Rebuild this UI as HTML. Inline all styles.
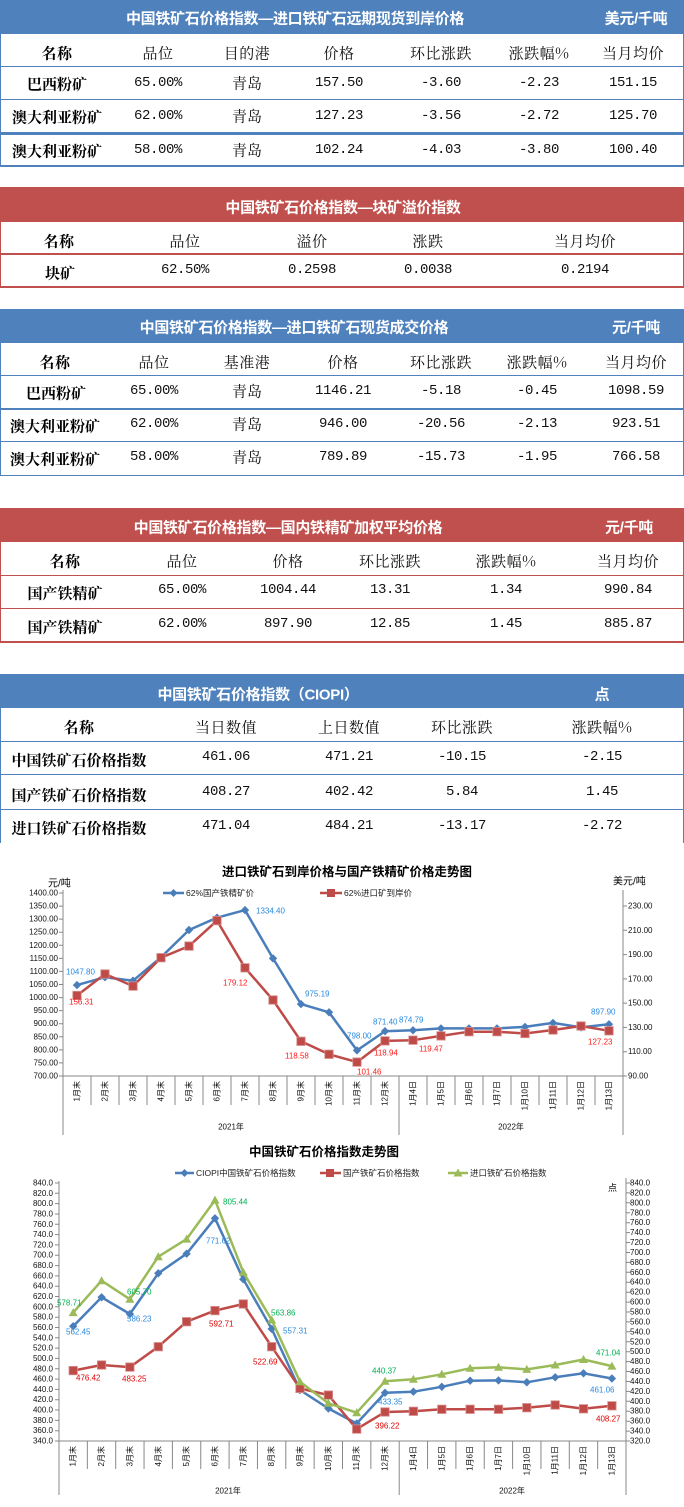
<!DOCTYPE html>
<html><head><meta charset="utf-8">
<style>
html,body{margin:0;padding:0;background:#fff;}
body{width:684px;height:1507px;position:relative;overflow:hidden;font-family:"Liberation Sans","Noto Sans CJK SC",sans-serif;}
.bar{position:absolute;left:0;width:684px;}
.b{background:#4f81bd;}
.r{background:#c0504d;}
.ln{position:absolute;left:0;width:684px;}
.vl{position:absolute;width:1px;}
.c{position:absolute;transform:translate(-50%,-50%);white-space:nowrap;line-height:1;}
.t{color:#fff;font-weight:bold;font-size:15px;font-family:"Liberation Sans","Noto Sans CJK SC",sans-serif;letter-spacing:-0.3px;}
.h{font-family:"Noto Serif CJK SC","Liberation Serif",serif;font-size:15px;color:#111;letter-spacing:0.5px;}
.hb{font-family:"Noto Serif CJK SC","Liberation Serif",serif;font-size:15px;font-weight:bold;color:#000;letter-spacing:0.5px;}
.n{font-family:"Noto Serif CJK SC","Liberation Serif",serif;font-size:15px;font-weight:bold;color:#000;}
.d{font-family:"Liberation Mono",monospace;font-size:14px;color:#111;letter-spacing:-0.4px;}
.dc{font-family:"Noto Serif CJK SC","Liberation Serif",serif;font-size:15px;color:#111;}
svg{position:absolute;left:0;top:0;}
</style></head><body>

<!-- Table 1 -->
<div class="bar b" style="top:0;height:34px"></div>
<div class="c t" style="left:295px;top:19px">中国铁矿石价格指数—进口铁矿石远期现货到岸价格</div>
<div class="c t" style="left:636px;top:19px">美元/千吨</div>
<div class="vl b" style="left:0;top:34px;height:133px"></div>
<div class="vl b" style="left:683px;top:34px;height:133px"></div>
<div class="ln b" style="top:66px;height:1px"></div>
<div class="ln b" style="top:99px;height:1px"></div>
<div class="ln b" style="top:132px;height:3px"></div>
<div class="ln b" style="top:165px;height:2px"></div>
<div class="c hb" style="left:57px;top:53px">名称</div>
<div class="c h" style="left:158px;top:53px">品位</div>
<div class="c h" style="left:247px;top:53px">目的港</div>
<div class="c h" style="left:339px;top:53px">价格</div>
<div class="c h" style="left:441px;top:53px">环比涨跌</div>
<div class="c h" style="left:539px;top:53px">涨跌幅%</div>
<div class="c h" style="left:633px;top:53px">当月均价</div>

<div class="c n" style="left:57px;top:84px">巴西粉矿</div>
<div class="c d" style="left:158px;top:83px">65.00%</div>
<div class="c dc" style="left:247px;top:83px">青岛</div>
<div class="c d" style="left:339px;top:83px">157.50</div>
<div class="c d" style="left:441px;top:83px">-3.60</div>
<div class="c d" style="left:539px;top:83px">-2.23</div>
<div class="c d" style="left:633px;top:83px">151.15</div>

<div class="c n" style="left:57px;top:117px">澳大利亚粉矿</div>
<div class="c d" style="left:158px;top:116px">62.00%</div>
<div class="c dc" style="left:247px;top:116px">青岛</div>
<div class="c d" style="left:339px;top:116px">127.23</div>
<div class="c d" style="left:441px;top:116px">-3.56</div>
<div class="c d" style="left:539px;top:116px">-2.72</div>
<div class="c d" style="left:633px;top:116px">125.70</div>

<div class="c n" style="left:57px;top:151px">澳大利亚粉矿</div>
<div class="c d" style="left:158px;top:150px">58.00%</div>
<div class="c dc" style="left:247px;top:150px">青岛</div>
<div class="c d" style="left:339px;top:150px">102.24</div>
<div class="c d" style="left:441px;top:150px">-4.03</div>
<div class="c d" style="left:539px;top:150px">-3.80</div>
<div class="c d" style="left:633px;top:150px">100.40</div>

<!-- Block table -->
<div class="bar r" style="top:187px;height:35px"></div>
<div class="c t" style="left:343px;top:208px">中国铁矿石价格指数—块矿溢价指数</div>
<div class="vl r" style="left:0;top:222px;height:66px"></div>
<div class="vl r" style="left:683px;top:222px;height:66px"></div>
<div class="ln r" style="top:253px;height:2px"></div>
<div class="ln r" style="top:286px;height:2px"></div>
<div class="c hb" style="left:59px;top:241px">名称</div>
<div class="c h" style="left:185px;top:241px">品位</div>
<div class="c h" style="left:312px;top:241px">溢价</div>
<div class="c h" style="left:428px;top:241px">涨跌</div>
<div class="c h" style="left:585px;top:241px">当月均价</div>
<div class="c n" style="left:60px;top:273px">块矿</div>
<div class="c d" style="left:185px;top:270px">62.50%</div>
<div class="c d" style="left:312px;top:270px">0.2598</div>
<div class="c d" style="left:428px;top:270px">0.0038</div>
<div class="c d" style="left:585px;top:270px">0.2194</div>

<!-- Table 2 -->
<div class="bar b" style="top:309px;height:34px"></div>
<div class="c t" style="left:294px;top:328px">中国铁矿石价格指数—进口铁矿石现货成交价格</div>
<div class="c t" style="left:636px;top:328px">元/千吨</div>
<div class="vl b" style="left:0;top:343px;height:133px"></div>
<div class="vl b" style="left:683px;top:343px;height:133px"></div>
<div class="ln b" style="top:375px;height:1px"></div>
<div class="ln b" style="top:408px;height:2px"></div>
<div class="ln b" style="top:441px;height:1px"></div>
<div class="ln b" style="top:475px;height:1px"></div>
<div class="c hb" style="left:55px;top:362px">名称</div>
<div class="c h" style="left:154px;top:362px">品位</div>
<div class="c h" style="left:247px;top:362px">基准港</div>
<div class="c h" style="left:343px;top:362px">价格</div>
<div class="c h" style="left:441px;top:362px">环比涨跌</div>
<div class="c h" style="left:537px;top:362px">涨跌幅%</div>
<div class="c h" style="left:636px;top:362px">当月均价</div>

<div class="c n" style="left:56px;top:393px">巴西粉矿</div>
<div class="c d" style="left:154px;top:391px">65.00%</div>
<div class="c dc" style="left:247px;top:391px">青岛</div>
<div class="c d" style="left:343px;top:391px">1146.21</div>
<div class="c d" style="left:441px;top:391px">-5.18</div>
<div class="c d" style="left:537px;top:391px">-0.45</div>
<div class="c d" style="left:636px;top:391px">1098.59</div>

<div class="c n" style="left:55px;top:426px">澳大利亚粉矿</div>
<div class="c d" style="left:154px;top:424px">62.00%</div>
<div class="c dc" style="left:247px;top:424px">青岛</div>
<div class="c d" style="left:343px;top:424px">946.00</div>
<div class="c d" style="left:441px;top:424px">-20.56</div>
<div class="c d" style="left:537px;top:424px">-2.13</div>
<div class="c d" style="left:636px;top:424px">923.51</div>

<div class="c n" style="left:55px;top:459px">澳大利亚粉矿</div>
<div class="c d" style="left:154px;top:457px">58.00%</div>
<div class="c dc" style="left:247px;top:457px">青岛</div>
<div class="c d" style="left:343px;top:457px">789.89</div>
<div class="c d" style="left:441px;top:457px">-15.73</div>
<div class="c d" style="left:537px;top:457px">-1.95</div>
<div class="c d" style="left:636px;top:457px">766.58</div>

<!-- Table 3 -->
<div class="bar r" style="top:508px;height:34px"></div>
<div class="c t" style="left:288px;top:528px">中国铁矿石价格指数—国内铁精矿加权平均价格</div>
<div class="c t" style="left:629px;top:528px">元/千吨</div>
<div class="vl r" style="left:0;top:542px;height:101px"></div>
<div class="vl r" style="left:683px;top:542px;height:101px"></div>
<div class="ln r" style="top:575px;height:1px"></div>
<div class="ln r" style="top:608px;height:1px"></div>
<div class="ln r" style="top:641px;height:2px"></div>
<div class="c hb" style="left:65px;top:561px">名称</div>
<div class="c h" style="left:182px;top:561px">品位</div>
<div class="c h" style="left:288px;top:561px">价格</div>
<div class="c h" style="left:390px;top:561px">环比涨跌</div>
<div class="c h" style="left:506px;top:561px">涨跌幅%</div>
<div class="c h" style="left:628px;top:561px">当月均价</div>

<div class="c n" style="left:65px;top:593px">国产铁精矿</div>
<div class="c d" style="left:182px;top:590px">65.00%</div>
<div class="c d" style="left:288px;top:590px">1004.44</div>
<div class="c d" style="left:390px;top:590px">13.31</div>
<div class="c d" style="left:506px;top:590px">1.34</div>
<div class="c d" style="left:628px;top:590px">990.84</div>

<div class="c n" style="left:65px;top:627px">国产铁精矿</div>
<div class="c d" style="left:182px;top:624px">62.00%</div>
<div class="c d" style="left:288px;top:624px">897.90</div>
<div class="c d" style="left:390px;top:624px">12.85</div>
<div class="c d" style="left:506px;top:624px">1.45</div>
<div class="c d" style="left:628px;top:624px">885.87</div>

<!-- Table 4 -->
<div class="bar b" style="top:674px;height:34px"></div>
<div class="c t" style="left:258px;top:695px">中国铁矿石价格指数（CIOPI）</div>
<div class="c t" style="left:602px;top:695px">点</div>
<div class="vl b" style="left:0;top:708px;height:135px"></div>
<div class="vl b" style="left:683px;top:708px;height:135px"></div>
<div class="ln b" style="top:741px;height:1px"></div>
<div class="ln b" style="top:774px;height:1px"></div>
<div class="ln b" style="top:809px;height:1px"></div>
<div class="c hb" style="left:79px;top:727px">名称</div>
<div class="c h" style="left:226px;top:727px">当日数值</div>
<div class="c h" style="left:349px;top:727px">上日数值</div>
<div class="c h" style="left:462px;top:727px">环比涨跌</div>
<div class="c h" style="left:602px;top:727px">涨跌幅%</div>

<div class="c n" style="left:79px;top:760px">中国铁矿石价格指数</div>
<div class="c d" style="left:226px;top:757px">461.06</div>
<div class="c d" style="left:349px;top:757px">471.21</div>
<div class="c d" style="left:462px;top:757px">-10.15</div>
<div class="c d" style="left:602px;top:757px">-2.15</div>

<div class="c n" style="left:79px;top:795px">国产铁矿石价格指数</div>
<div class="c d" style="left:226px;top:792px">408.27</div>
<div class="c d" style="left:349px;top:792px">402.42</div>
<div class="c d" style="left:462px;top:792px">5.84</div>
<div class="c d" style="left:602px;top:792px">1.45</div>

<div class="c n" style="left:79px;top:828px">进口铁矿石价格指数</div>
<div class="c d" style="left:226px;top:826px">471.04</div>
<div class="c d" style="left:349px;top:826px">484.21</div>
<div class="c d" style="left:462px;top:826px">-13.17</div>
<div class="c d" style="left:602px;top:826px">-2.72</div>

<svg width="684" height="1507" viewBox="0 0 684 1507" xmlns="http://www.w3.org/2000/svg" font-family="Liberation Sans, Noto Sans CJK SC, sans-serif">
<defs>
<marker id="dm" viewBox="-5 -5 10 10" markerWidth="10" markerHeight="10" markerUnits="userSpaceOnUse" refX="0" refY="0"><path d="M0 -4.2L4.2 0 0 4.2 -4.2 0Z" fill="#4a7ebb"/></marker>
<marker id="sq" viewBox="-5 -5 10 10" markerWidth="10" markerHeight="10" markerUnits="userSpaceOnUse" refX="0" refY="0"><rect x="-4.2" y="-4.2" width="8.4" height="8.4" fill="#be4b48" stroke="#d68f8d" stroke-width="0.8"/></marker>
<marker id="tr" viewBox="-5 -5 10 10" markerWidth="10" markerHeight="10" markerUnits="userSpaceOnUse" refX="0" refY="0"><path d="M0 -4.5L4.5 3.5 -4.5 3.5Z" fill="#9bbb59"/></marker>
</defs>

<!-- ============ CHART 1 ============ -->
<text x="347" y="872" text-anchor="middle" dominant-baseline="central" font-size="12.5" font-weight="bold" fill="#000">进口铁矿石到岸价格与国产铁精矿价格走势图</text>
<text x="48" y="884" dominant-baseline="central" font-size="10" fill="#000">元/吨</text>
<text x="613" y="882" dominant-baseline="central" font-size="10" fill="#000">美元/吨</text>

<line x1="163" y1="893" x2="184" y2="893" stroke="#4a7ebb" stroke-width="2.5"/>
<path d="M173.5 889L177.5 893 173.5 897 169.5 893Z" fill="#4a7ebb"/>
<text x="186" y="893" dominant-baseline="central" font-size="8.5" fill="#222">62%国产铁精矿价</text>
<line x1="320" y1="893" x2="342" y2="893" stroke="#be4b48" stroke-width="2.5"/>
<rect x="327" y="889" width="8" height="8" fill="#be4b48"/>
<text x="344" y="893" dominant-baseline="central" font-size="8.5" fill="#222">62%进口矿到岸价</text>

<g stroke="#888" stroke-width="1" fill="none">
<line x1="63" y1="890" x2="63" y2="1135"/>
<line x1="623" y1="890" x2="623" y2="1135"/>
<line x1="63" y1="1076" x2="623" y2="1076"/>
<line x1="399" y1="1076" x2="399" y2="1135"/>
<path d="M91 1076V1105M119 1076V1105M147 1076V1105M175 1076V1105M203 1076V1105M231 1076V1105M259 1076V1105M287 1076V1105M315 1076V1105M343 1076V1105M371 1076V1105M427 1076V1105M455 1076V1105M483 1076V1105M511 1076V1105M539 1076V1105M567 1076V1105M595 1076V1105"/>
<path d="M59 893H63M59 906.1H63M59 919.1H63M59 932.2H63M59 945.3H63M59 958.4H63M59 971.4H63M59 984.5H63M59 997.6H63M59 1010.6H63M59 1023.7H63M59 1036.8H63M59 1049.9H63M59 1062.9H63M59 1076H63"/>
<path d="M623 906H627M623 930.3H627M623 954.6H627M623 978.9H627M623 1003.1H627M623 1027.4H627M623 1051.7H627M623 1076H627"/>
</g>
<g font-size="8" fill="#111" text-anchor="end" dominant-baseline="central">
<text x="58" y="893">1400.00</text><text x="58" y="906.1">1350.00</text><text x="58" y="919.1">1300.00</text><text x="58" y="932.2">1250.00</text><text x="58" y="945.3">1200.00</text><text x="58" y="958.4">1150.00</text><text x="58" y="971.4">1100.00</text><text x="58" y="984.5">1050.00</text><text x="58" y="997.6">1000.00</text><text x="58" y="1010.6">950.00</text><text x="58" y="1023.7">900.00</text><text x="58" y="1036.8">850.00</text><text x="58" y="1049.9">800.00</text><text x="58" y="1062.9">750.00</text><text x="58" y="1076">700.00</text>
</g>
<g font-size="8" fill="#111" dominant-baseline="central">
<text x="628" y="906">230.00</text><text x="628" y="930.3">210.00</text><text x="628" y="954.6">190.00</text><text x="628" y="978.9">170.00</text><text x="628" y="1003.1">150.00</text><text x="628" y="1027.4">130.00</text><text x="628" y="1051.7">110.00</text><text x="628" y="1076">90.00</text>
</g>
<g font-size="8" fill="#111" text-anchor="end" dominant-baseline="central">
<text transform="translate(77,1081) rotate(-90)">1月末</text>
<text transform="translate(105,1081) rotate(-90)">2月末</text>
<text transform="translate(133,1081) rotate(-90)">3月末</text>
<text transform="translate(161,1081) rotate(-90)">4月末</text>
<text transform="translate(189,1081) rotate(-90)">5月末</text>
<text transform="translate(217,1081) rotate(-90)">6月末</text>
<text transform="translate(245,1081) rotate(-90)">7月末</text>
<text transform="translate(273,1081) rotate(-90)">8月末</text>
<text transform="translate(301,1081) rotate(-90)">9月末</text>
<text transform="translate(329,1081) rotate(-90)">10月末</text>
<text transform="translate(357,1081) rotate(-90)">11月末</text>
<text transform="translate(385,1081) rotate(-90)">12月末</text>
<text transform="translate(413,1081) rotate(-90)">1月4日</text>
<text transform="translate(441,1081) rotate(-90)">1月5日</text>
<text transform="translate(469,1081) rotate(-90)">1月6日</text>
<text transform="translate(497,1081) rotate(-90)">1月7日</text>
<text transform="translate(525,1081) rotate(-90)">1月10日</text>
<text transform="translate(553,1081) rotate(-90)">1月11日</text>
<text transform="translate(581,1081) rotate(-90)">1月12日</text>
<text transform="translate(609,1081) rotate(-90)">1月13日</text>
</g>
<text x="231" y="1127" text-anchor="middle" dominant-baseline="central" font-size="8" fill="#111">2021年</text>
<text x="511" y="1127" text-anchor="middle" dominant-baseline="central" font-size="8" fill="#111">2022年</text>

<polyline fill="none" stroke="#4a7ebb" stroke-width="2.5" stroke-linejoin="round" marker-start="url(#dm)" marker-mid="url(#dm)" marker-end="url(#dm)" points="77,985.1 105,977.2 133,980.7 161,957.3 189,930 217,917.7 245,910.1 273,958.4 301,1004.1 329,1012.3 357,1050.4 385,1031.2 413,1030.3 441,1028.4 469,1028.4 497,1028.4 525,1026.9 553,1022.9 581,1027.4 609,1024.3"/>
<polyline fill="none" stroke="#be4b48" stroke-width="2.5" stroke-linejoin="round" marker-start="url(#sq)" marker-mid="url(#sq)" marker-end="url(#sq)" points="77,995.5 105,974 133,986.1 161,957.7 189,946.1 217,920.6 245,967.8 273,1000 301,1041.3 329,1054.3 357,1062.1 385,1040.9 413,1040.2 441,1035.9 469,1031.7 497,1031.7 525,1033.5 553,1030 581,1026 609,1030.8"/>

<g font-size="8" fill="#2a8ae0" dominant-baseline="central">
<text x="66" y="972">1047.80</text><text x="256" y="911">1334.40</text><text x="305" y="994">975.19</text><text x="347" y="1036">798.00</text><text x="373" y="1022">871.40</text><text x="399" y="1020">874.79</text><text x="591" y="1012">897.90</text>
</g>
<g font-size="8" fill="#ff1a1a" dominant-baseline="central">
<text x="69" y="1002">156.31</text><text x="223" y="983">179.12</text><text x="285" y="1056">118.58</text><text x="357" y="1072">101.46</text><text x="374" y="1053">118.94</text><text x="419" y="1049">119.47</text><text x="588" y="1042">127.23</text>
</g>

<!-- ============ CHART 2 ============ -->
<text x="324" y="1152" text-anchor="middle" dominant-baseline="central" font-size="12.5" font-weight="bold" fill="#000">中国铁矿石价格指数走势图</text>
<text x="608" y="1188" dominant-baseline="central" font-size="9" fill="#000">点</text>

<line x1="175" y1="1173" x2="194" y2="1173" stroke="#4a7ebb" stroke-width="2.5"/>
<path d="M184.5 1169L188.5 1173 184.5 1177 180.5 1173Z" fill="#4a7ebb"/>
<text x="196" y="1173" dominant-baseline="central" font-size="8.5" fill="#222">CIOPI中国铁矿石价格指数</text>
<line x1="320" y1="1173" x2="341" y2="1173" stroke="#be4b48" stroke-width="2.5"/>
<rect x="326" y="1169" width="8" height="8" fill="#be4b48"/>
<text x="343" y="1173" dominant-baseline="central" font-size="8.5" fill="#222">国产铁矿石价格指数</text>
<line x1="448" y1="1173" x2="468" y2="1173" stroke="#9bbb59" stroke-width="2.5"/>
<path d="M458 1168.5L462.5 1176.5 453.5 1176.5Z" fill="#9bbb59"/>
<text x="470" y="1173" dominant-baseline="central" font-size="8.5" fill="#222">进口铁矿石价格指数</text>

<g stroke="#888" stroke-width="1" fill="none">
<line x1="59" y1="1181" x2="59" y2="1495"/>
<line x1="626" y1="1178" x2="626" y2="1495"/>
<line x1="59" y1="1441" x2="626" y2="1441"/>
<line x1="399.2" y1="1441" x2="399.2" y2="1495"/>
<path d="M87.35 1441V1469M115.7 1441V1469M144.05 1441V1469M172.4 1441V1469M200.75 1441V1469M229.1 1441V1469M257.45 1441V1469M285.8 1441V1469M314.15 1441V1469M342.5 1441V1469M370.85 1441V1469M427.55 1441V1469M455.9 1441V1469M484.25 1441V1469M512.6 1441V1469M540.95 1441V1469M569.3 1441V1469M597.65 1441V1469"/>
<path d="M55 1183H59M55 1193.3H59M55 1203.6H59M55 1214H59M55 1224.3H59M55 1234.6H59M55 1244.9H59M55 1255.2H59M55 1265.6H59M55 1275.9H59M55 1286.2H59M55 1296.5H59M55 1306.8H59M55 1317.2H59M55 1327.5H59M55 1337.8H59M55 1348.1H59M55 1358.4H59M55 1368.8H59M55 1379.1H59M55 1389.4H59M55 1399.7H59M55 1410H59M55 1420.4H59M55 1430.7H59M55 1441H59"/>
<path d="M626 1183H630M626 1192.9H630M626 1202.8H630M626 1212.8H630M626 1222.7H630M626 1232.6H630M626 1242.5H630M626 1252.5H630M626 1262.4H630M626 1272.3H630M626 1282.2H630M626 1292.2H630M626 1302.1H630M626 1312H630M626 1321.9H630M626 1331.8H630M626 1341.8H630M626 1351.7H630M626 1361.6H630M626 1371.5H630M626 1381.5H630M626 1391.4H630M626 1401.3H630M626 1411.2H630M626 1421.2H630M626 1431.1H630M626 1441H630"/>
</g>
<g font-size="8" fill="#111" text-anchor="end" dominant-baseline="central">
<text x="53" y="1183">840.0</text><text x="53" y="1193.3">820.0</text><text x="53" y="1203.6">800.0</text><text x="53" y="1214">780.0</text><text x="53" y="1224.3">760.0</text><text x="53" y="1234.6">740.0</text><text x="53" y="1244.9">720.0</text><text x="53" y="1255.2">700.0</text><text x="53" y="1265.6">680.0</text><text x="53" y="1275.9">660.0</text><text x="53" y="1286.2">640.0</text><text x="53" y="1296.5">620.0</text><text x="53" y="1306.8">600.0</text><text x="53" y="1317.2">580.0</text><text x="53" y="1327.5">560.0</text><text x="53" y="1337.8">540.0</text><text x="53" y="1348.1">520.0</text><text x="53" y="1358.4">500.0</text><text x="53" y="1368.8">480.0</text><text x="53" y="1379.1">460.0</text><text x="53" y="1389.4">440.0</text><text x="53" y="1399.7">420.0</text><text x="53" y="1410">400.0</text><text x="53" y="1420.4">380.0</text><text x="53" y="1430.7">360.0</text><text x="53" y="1441">340.0</text>
</g>
<g font-size="8" fill="#111" dominant-baseline="central">
<text x="630" y="1183">840.0</text><text x="630" y="1192.9">820.0</text><text x="630" y="1202.8">800.0</text><text x="630" y="1212.8">780.0</text><text x="630" y="1222.7">760.0</text><text x="630" y="1232.6">740.0</text><text x="630" y="1242.5">720.0</text><text x="630" y="1252.5">700.0</text><text x="630" y="1262.4">680.0</text><text x="630" y="1272.3">660.0</text><text x="630" y="1282.2">640.0</text><text x="630" y="1292.2">620.0</text><text x="630" y="1302.1">600.0</text><text x="630" y="1312">580.0</text><text x="630" y="1321.9">560.0</text><text x="630" y="1331.8">540.0</text><text x="630" y="1341.8">520.0</text><text x="630" y="1351.7">500.0</text><text x="630" y="1361.6">480.0</text><text x="630" y="1371.5">460.0</text><text x="630" y="1381.5">440.0</text><text x="630" y="1391.4">420.0</text><text x="630" y="1401.3">400.0</text><text x="630" y="1411.2">380.0</text><text x="630" y="1421.2">360.0</text><text x="630" y="1431.1">340.0</text><text x="630" y="1441">320.0</text>
</g>
<g font-size="8" fill="#111" text-anchor="end" dominant-baseline="central">
<text transform="translate(73.2,1446) rotate(-90)">1月末</text>
<text transform="translate(101.6,1446) rotate(-90)">2月末</text>
<text transform="translate(129.9,1446) rotate(-90)">3月末</text>
<text transform="translate(158.3,1446) rotate(-90)">4月末</text>
<text transform="translate(186.6,1446) rotate(-90)">5月末</text>
<text transform="translate(215,1446) rotate(-90)">6月末</text>
<text transform="translate(243.3,1446) rotate(-90)">7月末</text>
<text transform="translate(271.7,1446) rotate(-90)">8月末</text>
<text transform="translate(300,1446) rotate(-90)">9月末</text>
<text transform="translate(328.4,1446) rotate(-90)">10月末</text>
<text transform="translate(356.7,1446) rotate(-90)">11月末</text>
<text transform="translate(385,1446) rotate(-90)">12月末</text>
<text transform="translate(413.4,1446) rotate(-90)">1月4日</text>
<text transform="translate(441.8,1446) rotate(-90)">1月5日</text>
<text transform="translate(470.1,1446) rotate(-90)">1月6日</text>
<text transform="translate(498.5,1446) rotate(-90)">1月7日</text>
<text transform="translate(526.8,1446) rotate(-90)">1月10日</text>
<text transform="translate(555.2,1446) rotate(-90)">1月11日</text>
<text transform="translate(583.5,1446) rotate(-90)">1月12日</text>
<text transform="translate(611.9,1446) rotate(-90)">1月13日</text>
</g>
<text x="228" y="1491" text-anchor="middle" dominant-baseline="central" font-size="8" fill="#111">2021年</text>
<text x="512" y="1491" text-anchor="middle" dominant-baseline="central" font-size="8" fill="#111">2022年</text>

<polyline fill="none" stroke="#4a7ebb" stroke-width="2.5" stroke-linejoin="round" marker-start="url(#dm)" marker-mid="url(#dm)" marker-end="url(#dm)" points="73.2,1326.2 101.6,1297.3 129.9,1314 158.3,1273.3 186.6,1253.7 215,1218.3 243.3,1279.3 271.7,1328.9 300,1390 328.4,1408.5 356.7,1423.5 385,1392.8 413.4,1391.7 441.8,1386.8 470.1,1380.7 498.5,1380.4 526.8,1382.3 555.2,1377.3 583.5,1373.3 611.9,1378.5"/>
<polyline fill="none" stroke="#be4b48" stroke-width="2.5" stroke-linejoin="round" marker-start="url(#sq)" marker-mid="url(#sq)" marker-end="url(#sq)" points="73.2,1370.6 101.6,1365 129.9,1367.1 158.3,1346.7 186.6,1321.7 215,1310.6 243.3,1304 271.7,1346.7 300,1388.4 328.4,1395.1 356.7,1429.1 385,1412 413.4,1411.3 441.8,1409.3 470.1,1409.3 498.5,1409.3 526.8,1407.7 555.2,1405 583.5,1408.8 611.9,1405.8"/>
<polyline fill="none" stroke="#9bbb59" stroke-width="2.5" stroke-linejoin="round" marker-start="url(#tr)" marker-mid="url(#tr)" marker-end="url(#tr)" points="73.2,1312.6 101.6,1280.7 129.9,1299.2 158.3,1256.7 186.6,1239.1 215,1200.1 243.3,1272.3 271.7,1320 300,1381.7 328.4,1403.3 356.7,1412.7 385,1381.3 413.4,1379.3 441.8,1374.3 470.1,1368.3 498.5,1367.3 526.8,1369.4 555.2,1365 583.5,1359.5 611.9,1366.1"/>

<g font-size="8" fill="#00b050" dominant-baseline="central">
<text x="57" y="1303">578.71</text><text x="127" y="1292">605.70</text><text x="223" y="1202">805.44</text><text x="271" y="1313">563.86</text><text x="372" y="1371">440.37</text><text x="596" y="1353">471.04</text>
</g>
<g font-size="8" fill="#2a8ae0" dominant-baseline="central">
<text x="66" y="1332">562.45</text><text x="127" y="1319">586.23</text><text x="206" y="1241">771.62</text><text x="283" y="1331">557.31</text><text x="378" y="1402">433.35</text><text x="590" y="1390">461.06</text>
</g>
<g font-size="8" fill="#e00000" dominant-baseline="central">
<text x="76" y="1378">476.42</text><text x="122" y="1379">483.25</text><text x="209" y="1324">592.71</text><text x="253" y="1362">522.69</text><text x="375" y="1426">396.22</text><text x="596" y="1419">408.27</text>
</g>
</svg>
</body></html>
